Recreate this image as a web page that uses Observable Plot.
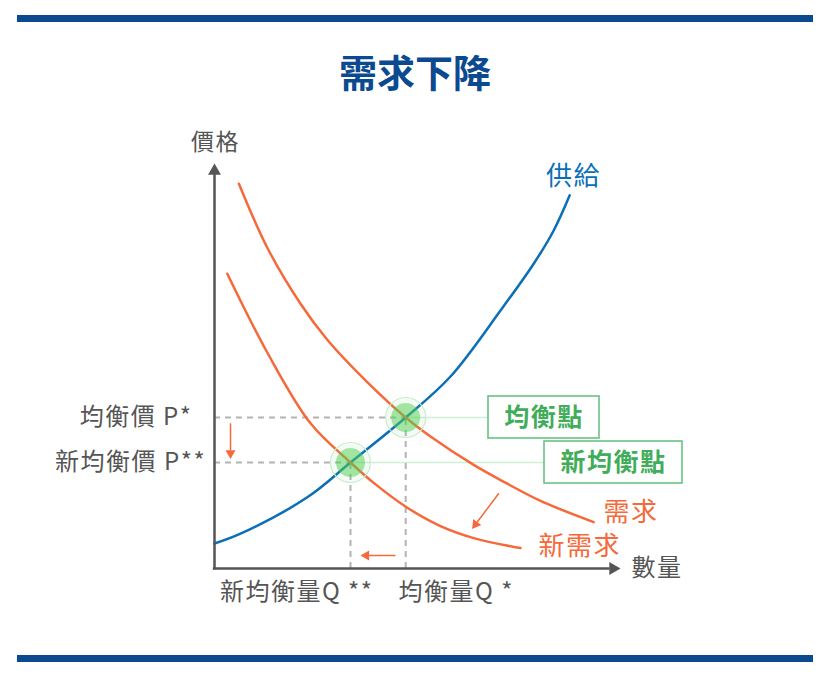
<!DOCTYPE html>
<html><head><meta charset="utf-8">
<script src="https://cdn.jsdelivr.net/npm/d3@7"></script>
<script src="https://cdn.jsdelivr.net/npm/@observablehq/plot@0.6"></script>
<style>
body{margin:0;background:#fff;}
#wrap{position:relative;width:830px;height:674px;overflow:hidden;font-family:"Noto Sans CJK TC","Noto Sans",sans-serif;}
.bar{position:absolute;left:17px;width:796px;height:7px;background:#0b4a8f;}
#title{position:absolute;left:0;width:830px;top:48px;text-align:center;font-size:38px;font-weight:700;color:#0b4a8f;line-height:46px;}
#chart{position:absolute;left:0;top:110px;}
#chart text{letter-spacing:1.5px;}
</style></head><body>
<div id="wrap">
<div class="bar" style="top:15px"></div>
<div id="title">需求下降</div>
<div id="chart"></div>
<div class="bar" style="top:655px"></div>
</div>
<script>
// equilibrium values
const eqQ = [4.78, 3.4];          // Q*, Q**
const eqP = [3.775, 2.65];        // P*, P**
// supply curve
const supplyQ = [0, 0.65, 2.32, 3.4, 4.78, 5.9, 7.15, 7.98, 8.48, 8.88];
const supplyP = [0.625, 0.87, 1.78, 2.65, 3.775, 4.8, 6.45, 7.62, 8.45, 9.33];
// original demand
const demandQ = [0.61, 1.32, 2.15, 2.82, 3.8, 4.78, 5.4, 6.48, 7.32, 8.15, 9.48];
const demandP = [9.62, 8.02, 6.62, 5.72, 4.68, 3.775, 3.3, 2.59, 2.12, 1.69, 1.16];
// new (lower) demand
const newDemandQ = [0.32, 1.32, 2.4, 3.4, 3.98, 4.82, 5.65, 6.48, 7.65];
const newDemandP = [7.37, 5.4, 3.63, 2.65, 2.14, 1.52, 1.06, 0.76, 0.51];
// shift arrows (from -> to)
const arrowX1 = [0.4, 4.525, 7.11];
const arrowY1 = [3.63, 0.325, 1.88];
const arrowX2 = [0.4, 3.65, 6.44];
const arrowY2 = [2.74, 0.325, 0.99];
// texts
const eqBoxLabels = ["均衡點", "新均衡點"];
const priceLabels = ["均衡價 P*", "新均衡價 P**"];
const qtyLabels = ["均衡量Q *", "新均衡量Q **"];

const toPts = (qs, ps) => qs.map((q, i) => ({q, p: ps[i]}));
const supply = toPts(supplyQ, supplyP);
const demand = toPts(demandQ, demandP);
const newDemand = toPts(newDemandQ, newDemandP);
const eq = toPts(eqQ, eqP);

const UNIT = 40; // px per data unit (same on both axes)
const arrows = arrowX1.map((x1, i) => {
  const x2 = arrowX2[i], y2 = arrowY2[i], y1 = arrowY1[i];
  const dx = x2 - x1, dy = y2 - y1, len = Math.hypot(dx, dy);
  const ux = dx / len, uy = dy / len;
  const headH = 8.6 / UNIT, centroid = 5.75 / UNIT;
  return {x1, y1, sx: x2 - ux * headH, sy: y2 - uy * headH,
          hx: x2 - ux * centroid, hy: y2 - uy * centroid,
          rot: Math.atan2(dx, dy) * 180 / Math.PI};
});

const axisTipQ = 10.15, axisTipP = 10.125;
const bigOff = 7.46 / UNIT, bigH = 11.2 / UNIT;
const boxX1 = [6.85, 8.25], boxX2 = [9.625, 11.7];
const boxes = eq.map((d, i) => ({x1: boxX1[i], x2: boxX2[i], y1: d.p - 0.525, y2: d.p + 0.525,
  cx: (boxX1[i] + boxX2[i]) / 2, cy: d.p, label: eqBoxLabels[i], eqx: d.q}));

const font = '"Noto Sans CJK TC", "Noto Sans", sans-serif';
const gray = "#555555", orange = "#f5693a", blue = "#0b6fb8", green = "#41ad5b";

const chart = Plot.plot({
  width: 830, height: 520, margin: 0,
  x: {domain: [0, 10], range: [214, 614], axis: null},
  y: {domain: [0, 10], range: [458, 58], axis: null},
  style: {fontFamily: font, background: "transparent", overflow: "visible"},
  marks: [
    // green connectors to boxes
    Plot.ruleY(boxes, {y: "cy", x1: "eqx", x2: "x1", stroke: "#cfeed7", strokeWidth: 1.5}),
    // dashed guide lines
    Plot.ruleY(eq, {y: "p", x1: 0, x2: "q", stroke: "#b3b3b3", strokeWidth: 2, strokeDasharray: "6,5"}),
    Plot.ruleX(eq, {x: "q", y1: 0, y2: "p", stroke: "#b3b3b3", strokeWidth: 2, strokeDasharray: "6,5"}),
    // curves
    Plot.line(supply, {x: "q", y: "p", curve: "catmull-rom", stroke: blue, strokeWidth: 2.5}),
    Plot.line(demand, {x: "q", y: "p", curve: "catmull-rom", stroke: orange, strokeWidth: 2.5}),
    Plot.line(newDemand, {x: "q", y: "p", curve: "catmull-rom", stroke: orange, strokeWidth: 2.5}),
    // equilibrium halos
    Plot.dot(eq, {x: "q", y: "p", r: 20, fill: "#56c95f", fillOpacity: 0.07, stroke: "#c8edcc", strokeWidth: 1.2}),
    Plot.dot(eq, {x: "q", y: "p", r: 14.5, fill: "#52d052", fillOpacity: 0.5}),
    // axes
    Plot.ruleY([0], {x1: -0.03, x2: axisTipQ - bigH + 0.02, stroke: gray, strokeWidth: 2.5}),
    Plot.ruleX([0], {y1: -0.03, y2: axisTipP - bigH + 0.02, stroke: gray, strokeWidth: 2.5}),
    Plot.dot([{q: axisTipQ - bigOff, p: 0}], {x: "q", y: "p", symbol: "triangle", r: 4.8, rotate: 90, fill: gray}),
    Plot.dot([{q: 0, p: axisTipP - bigOff}], {x: "q", y: "p", symbol: "triangle", r: 4.8, rotate: 0, fill: gray}),
    // shift arrows
    Plot.link(arrows, {x1: "x1", y1: "y1", x2: "sx", y2: "sy", stroke: orange, strokeWidth: 1.5}),
    Plot.dot(arrows, {x: "hx", y: "hy", symbol: "triangle", r: 3.7, rotate: "rot", fill: orange}),
    // boxes
    Plot.rect(boxes, {x1: "x1", x2: "x2", y1: "y1", y2: "y2", fill: "white", stroke: "#5fc07c", strokeWidth: 1.5}),
    Plot.text(boxes, {x: "cx", y: "cy", text: "label", fill: green, fontSize: 25, fontWeight: 700}),
    // axis titles
    Plot.text(["價格"], {x: 0.025, y: 10.65, fill: gray, fontSize: 23}),
    Plot.text(["數量"], {x: 10.425, y: 0, textAnchor: "start", fill: gray, fontSize: 24}),
    // curve labels
    Plot.text(["供給"], {x: 8.975, y: 9.8, fill: blue, fontSize: 26}),
    Plot.text(["需求"], {x: 9.725, y: 1.4, textAnchor: "start", fill: orange, fontSize: 26}),
    Plot.text(["新需求"], {x: 8.1, y: 0.55, textAnchor: "start", fill: orange, fontSize: 26}),
    // equilibrium tick labels
    Plot.text(priceLabels, {x: [-0.55, -0.21], y: eqP, textAnchor: "end", fill: gray, fontSize: 24}),
    Plot.text([qtyLabels[0]], {x: 4.6, y: -0.6, textAnchor: "start", fill: gray, fontSize: 24}),
    Plot.text([qtyLabels[1]], {x: 3.975, y: -0.6, textAnchor: "end", fill: gray, fontSize: 24})
  ]
});
document.getElementById("chart").appendChild(chart);
</script>
</body></html>
